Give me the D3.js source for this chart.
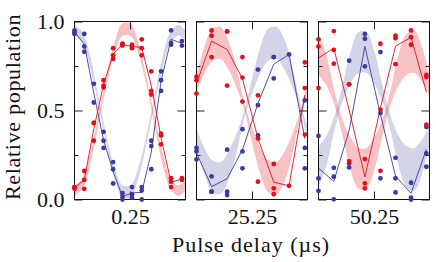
<!DOCTYPE html>
<html><head><meta charset="utf-8">
<script src="https://cdn.jsdelivr.net/npm/d3@7"></script>
<style>body{margin:0;background:#fff}svg{display:block}</style>
</head><body><svg id="c" width="436" height="262"></svg>
<script>
// ---------- data ----------
const panelCenters = [0.25, 25.25, 50.25];
const panelLabels = ["0.25", "25.25", "50.25"];
const yMajor = [0, 0.5, 1];
const yMinor = [0.25, 0.75];
const yLabels = ["0.0", "0.5", "1.0"];
const xTitle = "Pulse delay (µs)";
const yTitle = "Relative population";

const t1 = [0.0, 0.044, 0.087, 0.131, 0.174, 0.216, 0.259, 0.303, 0.346, 0.390, 0.435, 0.484];
const red1 = [[0.07,0.06,0.07],[0.16,0.11,0.06],[0.43,0.43,0.33],[0.67,0.64,0.63],[0.85,0.81,0.79],[0.875,0.865,0.87],
              [0.87,0.85,0.86],[0.90,0.85,0.81],[0.72,0.61,0.59],[0.37,0.36,0.31],[0.12,0.10,0.07],[0.12,0.11]];
const blue1 = [[0.95,0.94,0.93],[0.93,0.86,0.83],[0.65,0.545],[0.38,0.33,0.29],[0.21,0.17,0.09],[0.035,0.016,0.0],
               [0.03,0.01,0.07],[0.07,0.05,0.0],[0.33,0.30,0.17],[0.72,0.67,0.61],[0.95,0.88,0.87],[0.89,0.865]];

const t2 = [25.0, 25.068, 25.138, 25.207, 25.277, 25.348, 25.417, 25.488];
const red2 = [[0.69,0.67,0.595],[0.95,0.92,0.80],[0.944,0.944,0.64],[0.80,0.685,0.55],[0.585,0.343,0.10],[0.20,0.063,0.03],[0.077],[0.77,0.626,0.365]];
const blue2 = [[0.29,0.27,0.225],[0.13,0.044,0.044],[0.28,0.044,0.025],[0.395,0.27,0.175],[0.73,0.53,0.36],[0.80,0.80,0.68],[0.815],[0.557,0.29,0.175]];

const t3 = [50.0, 50.069, 50.138, 50.209, 50.279, 50.347, 50.417, 50.486];
const red3 = [[0.90,0.86,0.626],[0.946,0.84,0.763],[0.647,0.647,0.216],[0.227,0.091,0.063],[0.875,0.505,0.161],[0.92,0.906,0.76],[0.95,0.912,0.87],[0.70,0.688,0.42]];
const blue3 = [[0.357,0.119,0.049],[0.178,0.128,0.001],[0.78,0.203,0.18],[0.93,0.903,0.748],[0.828,0.486,0.119],[0.234,0.119,0.04],[0.094,0.01,0.0],[0.408,0.259,0.184]];

// fit bands (offset from panel start, lower / upper edge)
const bandOffsets = [0,0.036,0.072,0.108,0.144,0.18,0.216,0.252,0.288,0.324,0.36,0.396,0.432,0.468,0.5];
const redLo1 = [0.02,0.06,0.20,0.42,0.64,0.82,0.92,0.92,0.82,0.64,0.42,0.20,0.06,0.02,0.05];
const redHi1 = [0.08,0.12,0.27,0.47,0.69,0.88,0.99,0.99,0.88,0.69,0.47,0.27,0.12,0.08,0.11];
const blueLo1 = [0.92,0.88,0.73,0.53,0.31,0.12,0.01,0.01,0.12,0.31,0.53,0.73,0.88,0.92,0.89];
const blueHi1 = [0.98,0.94,0.80,0.58,0.36,0.18,0.08,0.08,0.18,0.36,0.58,0.80,0.94,0.98,0.95];
const redLo2 = [0.60,0.71,0.78,0.79,0.73,0.63,0.50,0.31,0.14,0.04,0.03,0.10,0.26,0.46,0.59];
const redHi2 = [0.70,0.86,0.96,0.97,0.89,0.74,0.54,0.40,0.29,0.22,0.21,0.27,0.37,0.50,0.67];
const blueLo2 = [0.30,0.14,0.04,0.03,0.11,0.26,0.46,0.60,0.71,0.78,0.79,0.73,0.63,0.50,0.33];
const blueHi2 = [0.40,0.29,0.22,0.21,0.27,0.37,0.50,0.69,0.86,0.96,0.97,0.90,0.74,0.54,0.41];
const redLo3 = [0.70,0.64,0.53,0.36,0.17,0.06,0.06,0.17,0.36,0.53,0.64,0.70,0.71,0.66,0.58];
const redHi3 = [0.93,0.81,0.61,0.45,0.35,0.29,0.29,0.35,0.45,0.61,0.81,0.93,0.95,0.85,0.69];
const blueLo3 = [0.07,0.19,0.39,0.55,0.65,0.71,0.71,0.65,0.55,0.39,0.19,0.07,0.05,0.15,0.31];
const blueHi3 = [0.30,0.36,0.47,0.64,0.83,0.94,0.94,0.83,0.64,0.47,0.36,0.30,0.29,0.34,0.42];

// ---------- drawing ----------
const FONT = "Liberation Serif, DejaVu Serif, serif";
const RED = "#e3101c", BLUE = "#3b3b9b";
const panelLeft = [74.5, 196.5, 318.5], panelW = 111;
const yTop = 21.5, yBot = 199.5;
const svg = d3.select("#c");
const y = d3.scaleLinear().domain([0, 1]).range([yBot, yTop]);

const panels = [
  {t: t1, red: red1, blue: blue1, rb: [redLo1, redHi1], bb: [blueLo1, blueHi1]},
  {t: t2, red: red2, blue: blue2, rb: [redLo2, redHi2], bb: [blueLo2, blueHi2]},
  {t: t3, red: red3, blue: blue3, rb: [redLo3, redHi3], bb: [blueLo3, blueHi3]}
];
const defs = svg.append("defs");

panels.forEach((p, i) => {
  const x0 = panelLeft[i], x1 = x0 + panelW;
  const start = panelCenters[i] - 0.25;
  const x = d3.scaleLinear().domain([start, panelCenters[i] + 0.25]).range([x0, x1]);
  defs.append("clipPath").attr("id", "clip" + i).append("rect")
    .attr("x", x0).attr("y", yTop).attr("width", panelW).attr("height", yBot - yTop);
  const inner = svg.append("g").attr("clip-path", `url(#clip${i})`);

  const area = d3.area().x(d => x(d.t)).y0(d => y(d.lo)).y1(d => y(d.hi)).curve(d3.curveCatmullRom);
  const mk = (lo, hi) => bandOffsets.map((o, k) => ({t: start + o, lo: lo[k], hi: hi[k]}));
  inner.append("path").datum(mk(p.bb[0], p.bb[1])).attr("d", area).attr("fill", BLUE).attr("fill-opacity", 0.22);
  inner.append("path").datum(mk(p.rb[0], p.rb[1])).attr("d", area).attr("fill", RED).attr("fill-opacity", 0.26);

  const line = d3.line().x(d => x(d.t)).y(d => y(d.v));
  [[p.blue, BLUE], [p.red, RED]].forEach(([vals, col]) => {
    const pts = p.t.map((t, k) => ({t, v: d3.mean(vals[k])}));
    inner.append("path").datum(pts).attr("d", line).attr("fill", "none").attr("stroke", col).attr("stroke-width", 0.9);
  });

  svg.append("rect").attr("x", x0).attr("y", yTop).attr("width", panelW).attr("height", yBot - yTop)
    .attr("fill", "none").attr("stroke", "#111").attr("stroke-width", 1);

  const fixAxis = g => { g.select(".domain").remove(); g.selectAll("line").attr("stroke", "#222");
                         g.attr("font-family", FONT).attr("font-size", 22); g.selectAll("text").attr("fill", "#111"); };
  svg.append("g").attr("transform", `translate(${x0},0)`)
    .call(d3.axisLeft(y).tickValues(yMajor).tickSize(-8).tickPadding(10).tickFormat((d, k) => i === 0 ? yLabels[k] : ""))
    .call(fixAxis);
  svg.append("g").attr("transform", `translate(${x0},0)`)
    .call(d3.axisLeft(y).tickValues(yMinor).tickSize(-4).tickFormat("")).call(fixAxis);
  svg.append("g").attr("transform", `translate(${x1},0)`)
    .call(d3.axisRight(y).tickValues(yMajor).tickSize(-8).tickFormat("")).call(fixAxis);
  svg.append("g").attr("transform", `translate(${x1},0)`)
    .call(d3.axisRight(y).tickValues(yMinor).tickSize(-4).tickFormat("")).call(fixAxis);
  svg.append("g").attr("transform", `translate(0,${yTop})`)
    .call(d3.axisTop(x).tickValues([panelCenters[i]]).tickSize(-8).tickFormat("")).call(fixAxis);
  svg.append("g").attr("transform", `translate(0,${yBot})`)
    .call(d3.axisBottom(x).tickValues([panelCenters[i]]).tickSize(-8).tickPadding(9).tickFormat(() => panelLabels[i]))
    .call(fixAxis);

  [[p.blue, BLUE], [p.red, RED]].forEach(([vals, col]) => {
    const pts = [];
    p.t.forEach((t, k) => vals[k].forEach(v => pts.push({t, v})));
    svg.append("g").selectAll("circle").data(pts).join("circle")
      .attr("cx", d => x(d.t)).attr("cy", d => y(d.v)).attr("r", 2.4).attr("fill", col);
  });
});

svg.append("text").attr("x", 251).attr("y", 251.5).attr("text-anchor", "middle")
  .attr("font-family", FONT).attr("font-size", 22).attr("letter-spacing", 1).attr("fill", "#111").text(xTitle);
svg.append("text").attr("transform", "translate(19.5,107) rotate(-90)").attr("text-anchor", "middle")
  .attr("font-family", FONT).attr("font-size", 22).attr("letter-spacing", 0.7).attr("fill", "#111").text(yTitle);
</script></body></html>
